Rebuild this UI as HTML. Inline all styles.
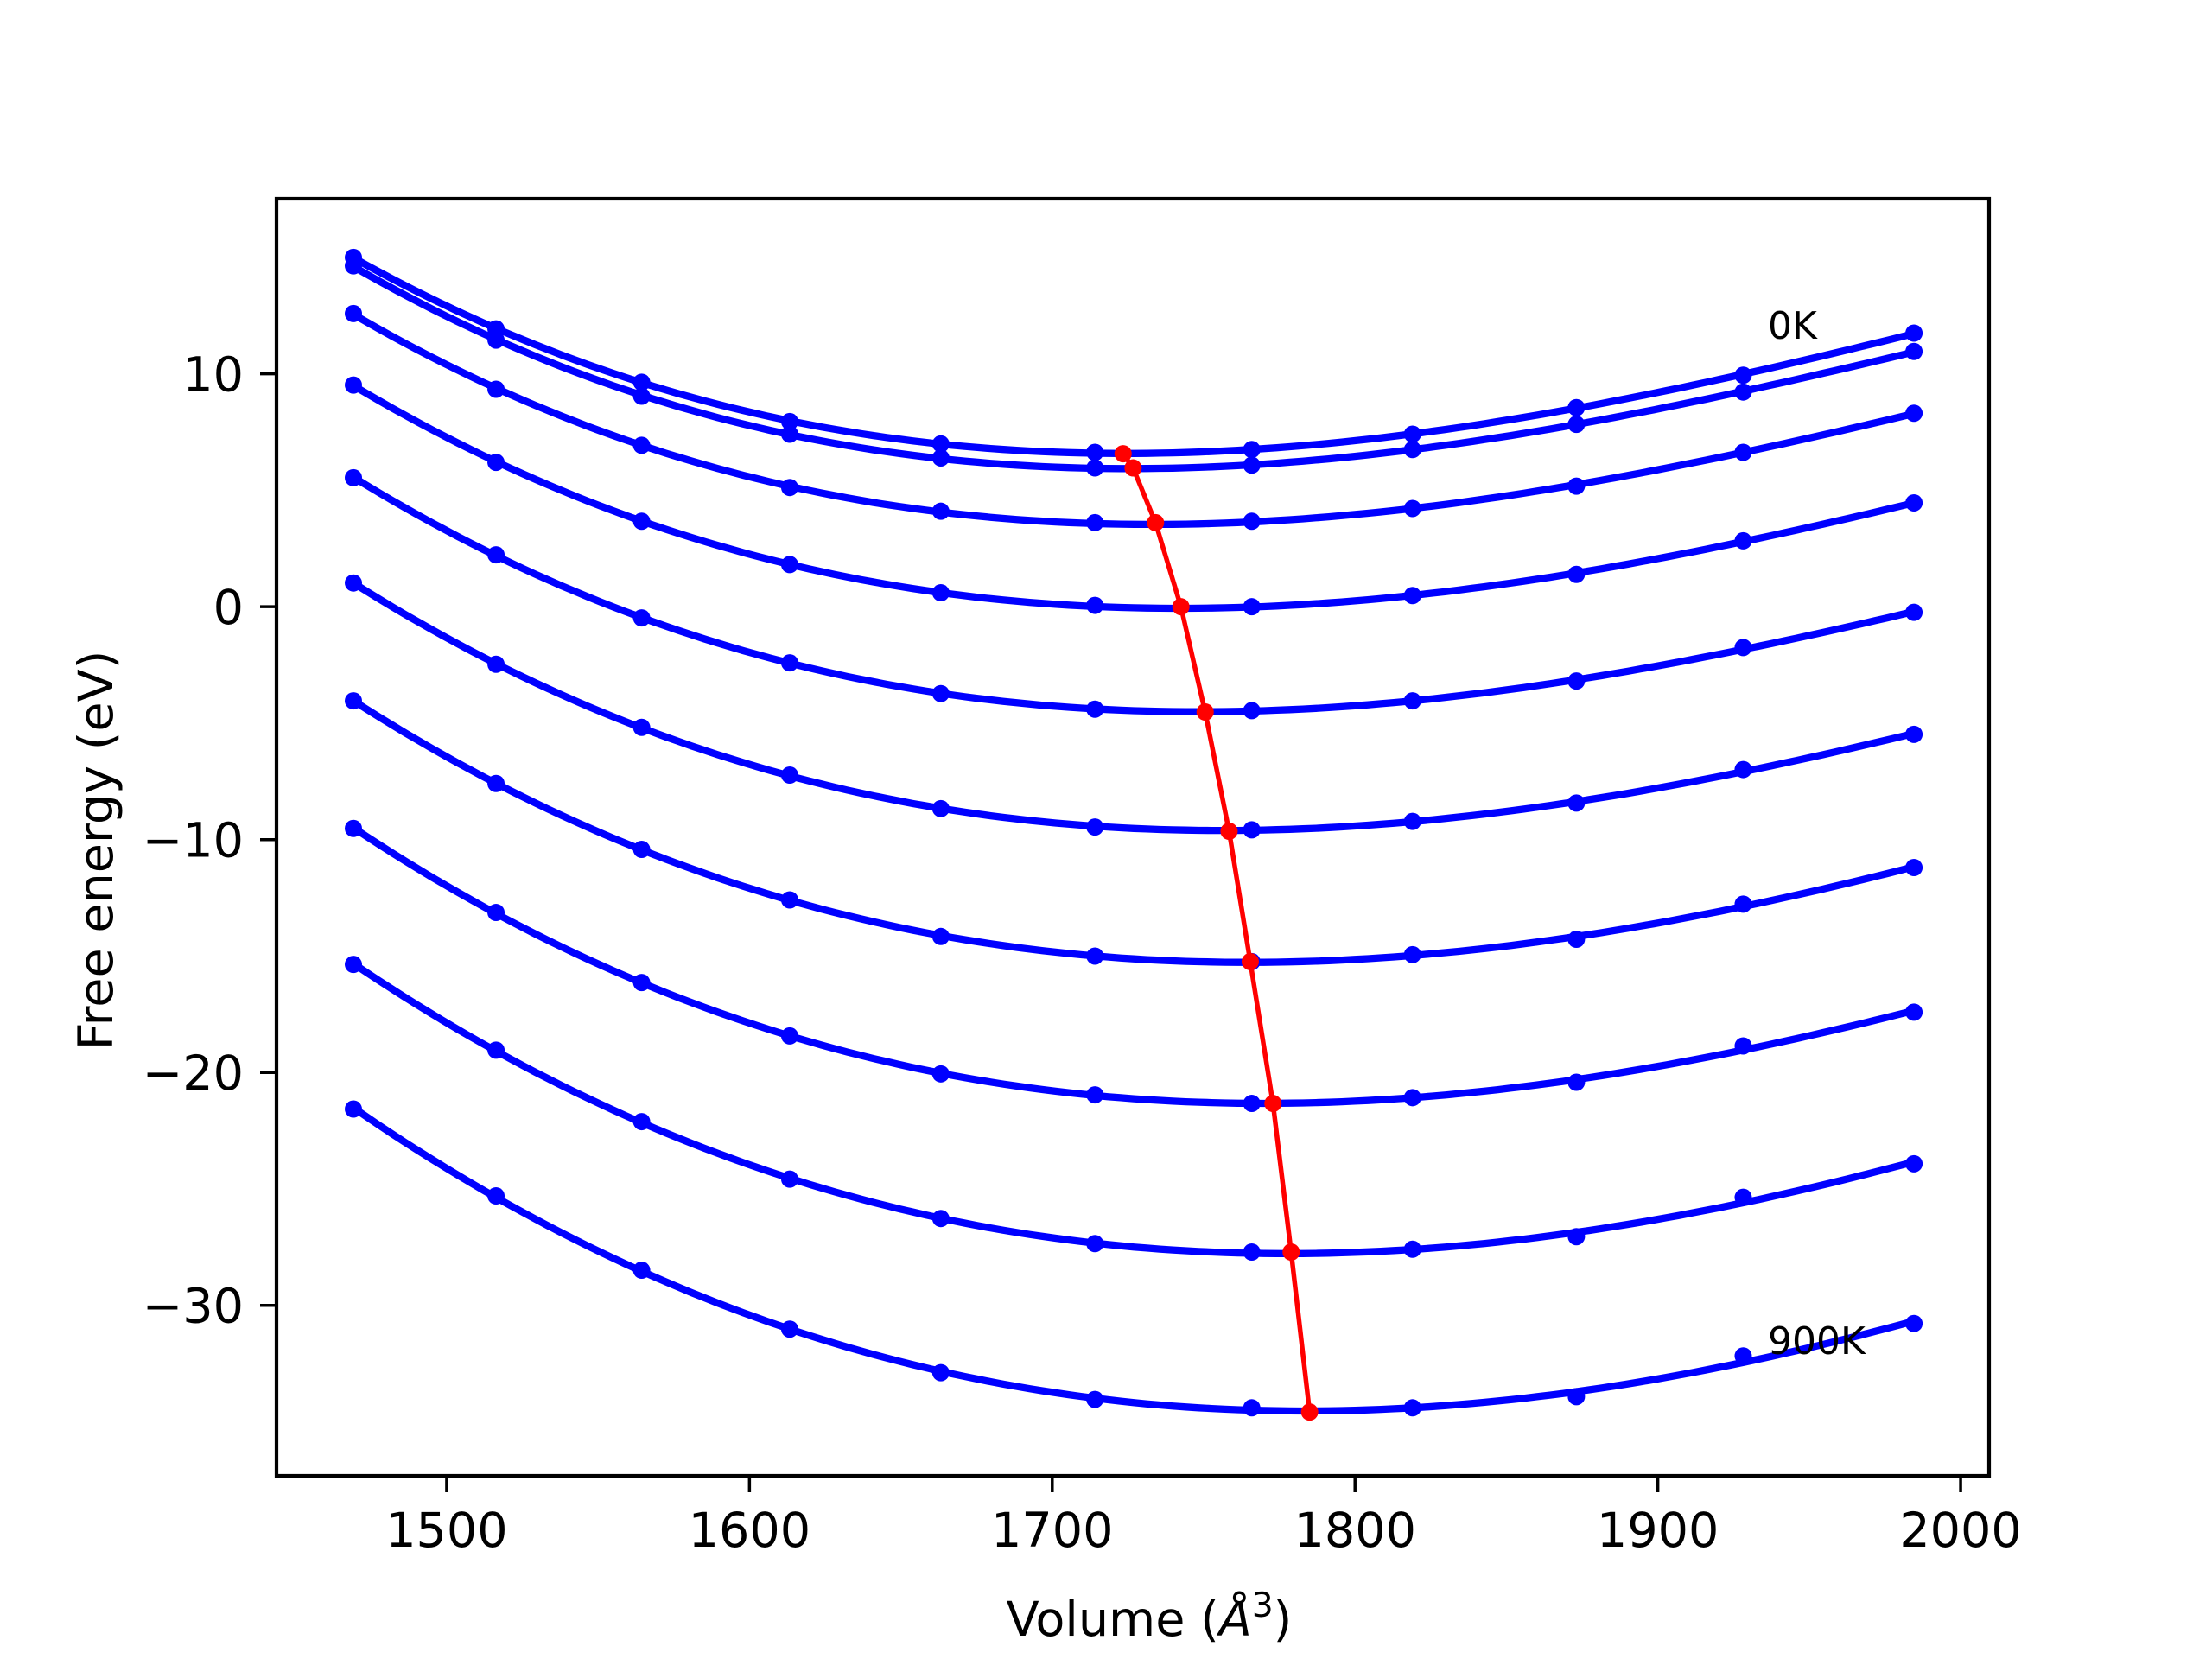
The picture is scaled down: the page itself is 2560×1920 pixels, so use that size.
<!DOCTYPE html>
<html><head><meta charset="utf-8"><style>
html,body{margin:0;padding:0;background:#fff}
svg{display:block}
text{font-family:"DejaVu Sans","Liberation Sans",sans-serif;fill:#000}
</style></head><body>
<svg id="chart" width="2560" height="1920" viewBox="0 0 2560 1920" xmlns="http://www.w3.org/2000/svg">
<rect width="2560" height="1920" fill="#fff"/>
<g id="plot"></g>
<rect x="320" y="230" width="1982" height="1478" fill="none" stroke="#000" stroke-width="4.2"/>
<g id="xticks"></g>
<g id="yticks"></g>
<text x="1330" y="1893" font-size="55.6" text-anchor="middle">Volume (<tspan font-style="italic">Å</tspan><tspan font-size="39" dy="-22">3</tspan><tspan dy="22">)</tspan></text>
<text transform="translate(130,984) rotate(-90)" font-size="55.6" text-anchor="middle">Free energy (eV)</text>
<text x="2046" y="392" font-size="44">0K</text>
<text x="2046" y="1567" font-size="44">900K</text>
</svg>
<script>
const volumes = [1469.2,1516.3,1564.4,1613.3,1663.2,1714.1,1765.9,1819,1873.1,1928.2,1984.6];
const seriesNames = ['0K','100K','200K','300K','400K','500K','600K','700K','800K','900K'];
const s0 = [15.00,11.93,9.64,7.95,6.99,6.63,6.75,7.41,8.55,9.94,11.75];
const s1 = [14.64,11.45,9.04,7.41,6.39,5.96,6.08,6.75,7.83,9.22,10.96];
const s2 = [12.59,9.34,6.93,5.12,4.10,3.61,3.67,4.22,5.18,6.63,8.31];
const s3 = [9.52,6.20,3.67,1.81,0.60,0.06,0,0.48,1.39,2.83,4.46];
const s4 = [5.54,2.23,-0.48,-2.41,-3.73,-4.40,-4.46,-4.04,-3.19,-1.75,-0.24];
const s5 = [1.02,-2.47,-5.18,-7.23,-8.67,-9.46,-9.58,-9.22,-8.43,-6.99,-5.48];
const s6 = [-4.04,-7.59,-10.42,-12.59,-14.16,-15.00,-15.24,-14.94,-14.28,-12.77,-11.20];
const s7 = [-9.52,-13.13,-16.14,-18.43,-20.06,-20.96,-21.33,-21.08,-20.42,-18.86,-17.41];
const s8 = [-15.36,-19.04,-22.11,-24.58,-26.27,-27.35,-27.71,-27.59,-27.05,-25.36,-23.92];
const s9 = [-21.57,-25.30,-28.49,-31.02,-32.89,-34.04,-34.40,-34.40,-33.92,-32.17,-30.78];
const minV = [1723.4,1726.7,1734.1,1742.5,1750.5,1758.4,1765.4,1772.9,1778.9,1785.0];
const minF = [6.57,5.96,3.61,0,-4.52,-9.64,-15.24,-21.33,-27.71,-34.58];
const xTicks = [1500,1600,1700,1800,1900,2000];
const yTicks = [-30,-20,-10,0,10];
const yTickLabels = ['\u221230','\u221220','\u221210','0','10'];

const NS='http://www.w3.org/2000/svg';
const X0=1443.8,X1=2009.4,PL=320,PR=2302;
const Y0=-37.32,Y1=17.52,PB=1708,PT=230;
function sx(v){return PL+(v-X0)/(X1-X0)*(PR-PL);}
function sy(v){return PB-(v-Y0)/(Y1-Y0)*(PB-PT);}
function mk(tag,attrs,parent){const e=document.createElementNS(NS,tag);for(const k in attrs)e.setAttribute(k,attrs[k]);parent.appendChild(e);return e;}
const plot=document.getElementById('plot');
function fit(xs,ys,deg){
  const n=deg+1,c=1725,s=260;
  const A=[];for(let i=0;i<n;i++){A.push(new Array(n+1).fill(0));}
  xs.forEach((x,k)=>{const t=(x-c)/s;for(let i=0;i<n;i++){for(let j=0;j<n;j++)A[i][j]+=Math.pow(t,i+j);A[i][n]+=ys[k]*Math.pow(t,i);}});
  for(let i=0;i<n;i++){let p=i;for(let r=i+1;r<n;r++)if(Math.abs(A[r][i])>Math.abs(A[p][i]))p=r;[A[i],A[p]]=[A[p],A[i]];
    for(let r=0;r<n;r++){if(r===i)continue;const f=A[r][i]/A[i][i];for(let j=i;j<=n;j++)A[r][j]-=f*A[i][j];}}
  const co=A.map((row,i)=>row[n]/row[i]);
  return x=>{const t=(x-c)/s;let v=0;for(let i=0;i<n;i++)v+=co[i]*Math.pow(t,i);return v;};
}
const all=[s0,s1,s2,s3,s4,s5,s6,s7,s8,s9];
all.forEach((ser,si)=>{
  const g=mk('g',{},plot);
  
  
  const f=fit(volumes,ser,3);
  let d='';const a=volumes[0],b=volumes[volumes.length-1];
  for(let i=0;i<=120;i++){const x=a+(b-a)*i/120;d+=(i?'L':'M')+sx(x).toFixed(1)+','+sy(f(x)).toFixed(1);}
  const p=mk('path',{d:d,fill:'none',stroke:'#0000ff','stroke-width':8.3,'stroke-linejoin':'round'},g);
  
  
  ser.forEach((v,k)=>{
    const c=mk('circle',{cx:sx(volumes[k]),cy:sy(v),r:10,fill:'#0000ff'},g);
    
    
  });
});
const rg=mk('g',{},plot);


mk('polyline',{points:minV.map((v,i)=>sx(v)+','+sy(minF[i])).join(' '),fill:'none',stroke:'#ff0000','stroke-width':5.5,'stroke-linejoin':'round'},rg);
minV.forEach((v,i)=>{const c=mk('circle',{cx:sx(v),cy:sy(minF[i]),r:10,fill:'#ff0000'},rg);
  
  });
const xg=document.getElementById('xticks');
xTicks.forEach(t=>{const x=sx(t);
  const l=mk('line',{x1:x,x2:x,y1:1708,y2:1727,stroke:'#000','stroke-width':3.5},xg);
  
  
  const tx=mk('text',{x:x,y:1790,'font-size':55.6,'text-anchor':'middle'},xg);tx.textContent=t;
  
  });
const yg=document.getElementById('yticks');
yTicks.forEach((t,i)=>{const y=sy(t);
  const l=mk('line',{x1:301,x2:320,y1:y,y2:y,stroke:'#000','stroke-width':3.5},yg);
  
  
  const tx=mk('text',{x:282,y:y+20,'font-size':55.6,'text-anchor':'end'},yg);tx.textContent=yTickLabels[i];
  
  });
</script>
</body></html>
